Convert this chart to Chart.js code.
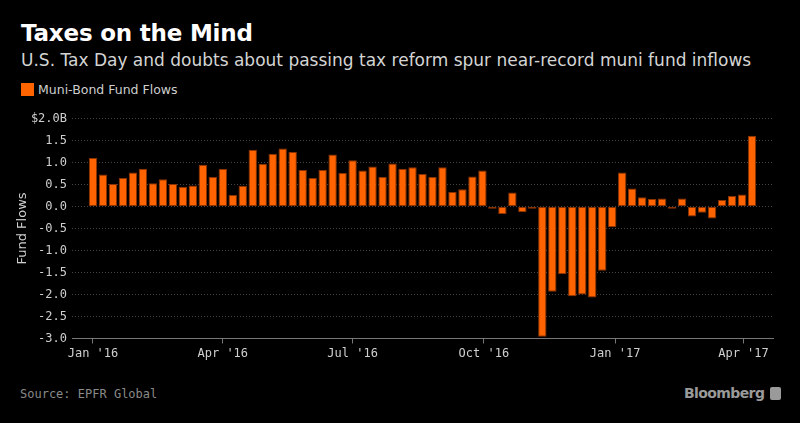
<!DOCTYPE html>
<html>
<head>
<meta charset="utf-8">
<script src="https://cdn.jsdelivr.net/npm/chart.js@4.4.0/dist/chart.umd.min.js"></script>
<style>
  body { margin: 0; background: #000; width: 800px; height: 423px; overflow: hidden; position: relative; }
  .txt { position: absolute; white-space: nowrap; }
  #title { left: 21px; top: 20px; font: bold 23px "DejaVu Sans", sans-serif; color: #fff; letter-spacing: -0.2px; }
  #subtitle { left: 21px; top: 50px; font: 17px "DejaVu Sans", sans-serif; color: #d4d4d4; }
  #legendBox { position: absolute; left: 21px; top: 83px; width: 13px; height: 13px; background: #ff6400; }
  #legendText { left: 38px; top: 82px; font: 12.5px "DejaVu Sans", sans-serif; color: #cfcfcf; }
  #source { left: 20px; top: 387px; font: 12px "DejaVu Sans Mono", monospace; color: #8a8a8a; }
  #brand { left: 684px; top: 385px; font: bold 14px "DejaVu Sans", sans-serif; color: #9a9a9a; letter-spacing: -0.6px; }
  #brandIcon { position: absolute; left: 770px; top: 387px; width: 11px; height: 13px; background: #9a9a9a; border-radius: 2px; }
  #chartBox { position: absolute; left: 0; top: 100px; width: 800px; height: 270px; }
</style>
</head>
<body>
<div id="title" class="txt">Taxes on the Mind</div>
<div id="subtitle" class="txt">U.S. Tax Day and doubts about passing tax reform spur near-record muni fund inflows</div>
<div id="legendBox"></div>
<div id="legendText" class="txt">Muni-Bond Fund Flows</div>
<div id="chartBox"><canvas id="myChart"></canvas></div>
<div id="source" class="txt">Source: EPFR Global</div>
<div id="brand" class="txt">Bloomberg</div>
<div id="brandIcon"></div>
<script>
// semanas (inicio de cada semana)
const weeks = [
  '2016-01-01', '2016-01-08', '2016-01-15', '2016-01-22', '2016-01-29',
  '2016-02-05', '2016-02-12', '2016-02-19', '2016-02-26',
  '2016-03-04', '2016-03-11', '2016-03-18', '2016-03-25',
  '2016-04-01', '2016-04-08', '2016-04-15', '2016-04-22', '2016-04-29',
  '2016-05-06', '2016-05-13', '2016-05-20', '2016-05-27',
  '2016-06-03', '2016-06-10', '2016-06-17', '2016-06-24',
  '2016-07-01', '2016-07-08', '2016-07-15', '2016-07-22', '2016-07-29',
  '2016-08-05', '2016-08-12', '2016-08-19', '2016-08-26',
  '2016-09-02', '2016-09-09', '2016-09-16', '2016-09-23', '2016-09-30',
  '2016-10-07', '2016-10-14', '2016-10-21', '2016-10-28',
  '2016-11-04', '2016-11-11', '2016-11-18', '2016-11-25',
  '2016-12-02', '2016-12-09', '2016-12-16', '2016-12-23', '2016-12-30',
  '2017-01-06', '2017-01-13', '2017-01-20', '2017-01-27',
  '2017-02-03', '2017-02-10', '2017-02-17', '2017-02-24',
  '2017-03-03', '2017-03-10', '2017-03-17', '2017-03-24', '2017-03-31',
  '2017-04-07'
];

// fluxos semanais, bilhoes de dolares
const flows = [
  1.10, 0.73, 0.51, 0.65, 0.77, 0.86, 0.53, 0.62, 0.51, 0.45,
  0.48, 0.95, 0.67, 0.85, 0.26, 0.47, 1.29, 0.97, 1.20, 1.32,
  1.24, 0.83, 0.65, 0.83, 1.18, 0.76, 1.05, 0.82, 0.91, 0.67,
  0.98, 0.86, 0.89, 0.74, 0.67, 0.89, 0.33, 0.39, 0.68, 0.82,
  -0.05, -0.17, 0.32, -0.13, -0.05, -2.96, -1.94, -1.54, -2.04, -2.00,
  -2.07, -1.46, -0.47, 0.77, 0.41, 0.21, 0.17, 0.18, -0.05, 0.18,
  -0.23, -0.14, -0.27, 0.15, 0.24, 0.27, 1.61
];

const tickDates = ['2016-01-01', '2016-04-01', '2016-07-01', '2016-10-01', '2017-01-01', '2017-04-01'];
const tickLabels = ["Jan '16", "Apr '16", "Jul '16", "Oct '16", "Jan '17", "Apr '17"];

const DAY = 86400000;
const start = Date.UTC(2016, 0, 1);
const dayOf = (s) => (Date.parse(s + 'T00:00:00Z') - start) / DAY;
const tickDays = tickDates.map(dayOf);

const ctx = document.getElementById('myChart').getContext('2d');

let myChart = new Chart(ctx, {
    type: 'bar',
    data: {
        datasets: [{
            label: 'Muni-Bond Fund Flows',
            data: weeks.map((w, i) => ({ x: dayOf(w), y: flows[i] })),
            backgroundColor: '#ff6400',
            borderColor: '#8a3300',
            borderWidth: 1,
            borderSkipped: false,
            categoryPercentage: 1,
            barPercentage: 0.84
        }]
    },
    options: {
        responsive: true,
        maintainAspectRatio: false,
        animation: false,
        layout: { padding: { top: 18.5, right: 27, left: 0, bottom: 0 } },
        plugins: {
            legend: { display: false },
            tooltip: { enabled: false }
        },
        scales: {
            x: {
                type: 'linear',
                offset: false,
                min: -14.7,
                max: 476.7,
                afterBuildTicks: (scale) => { scale.ticks = tickDays.map(v => ({ value: v })); },
                afterFit: (scale) => { scale.height = 31.5; },
                ticks: {
                    autoSkip: false,
                    maxRotation: 0,
                    color: '#cfcfcf',
                    padding: 3,
                    font: { family: 'DejaVu Sans Mono', size: 12 },
                    callback: (v) => tickLabels[tickDays.indexOf(v)] || ''
                },
                grid: { offset: false, drawOnChartArea: false, drawTicks: true, tickLength: 5, tickColor: '#777' },
                border: { display: true, color: '#777', width: 1 }
            },
            y: {
                min: -3,
                max: 2,
                afterFit: (scale) => { scale.width = 72; },
                ticks: {
                    stepSize: 0.5,
                    color: '#cfcfcf',
                    padding: 5,
                    font: { family: 'DejaVu Sans Mono', size: 12 },
                    callback: (v) => v === 2 ? '$2.0B' : v.toFixed(1)
                },
                title: {
                    display: true,
                    text: 'Fund Flows',
                    color: '#cfcfcf',
                    font: { family: 'DejaVu Sans', size: 13 },
                    padding: { top: 15, bottom: 0 }
                },
                grid: { color: '#444', lineWidth: 1, drawTicks: false },
                border: { display: false, dash: [1, 2] }
            }
        }
    }
});
</script>
</body>
</html>
